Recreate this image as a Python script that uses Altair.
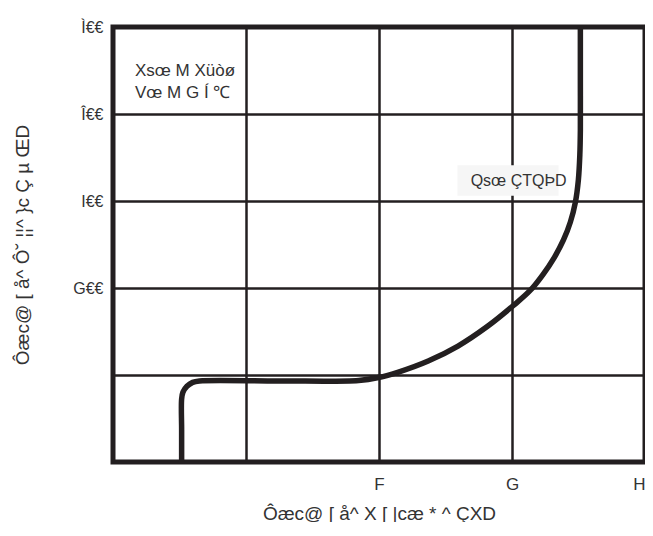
import altair as alt
import pandas as pd

# Curve
curve_x = [0.516, 0.516, 0.516, 0.526, 0.556, 0.599, 0.650, 1.249, 1.847, 1.996, 2.146, 2.370,
           2.594, 2.819, 3.006, 3.133, 3.230, 3.320, 3.387, 3.439, 3.477, 3.499, 3.510, 3.514,
           3.514, 3.514]
curve_y = [0.0, 0.368, 0.724, 0.803, 0.870, 0.915, 0.931, 0.931, 0.937, 0.971, 1.034, 1.161,
           1.333, 1.563, 1.793, 1.966, 2.149, 2.356, 2.552, 2.759, 2.989, 3.241, 3.529, 3.816,
           4.391, 5.0]

x_tick_values = [0, 1, 2, 3, 4]
x_tick_labels = ["", "", "F", "G", "H"]
y_tick_values = [0, 1, 2, 3, 4, 5]
y_tick_labels = ["", "", "G€€", "I€€", "Î€€", "Ì€€"]

x_title = "Ôæc@ [ å^ X [ |cæ * ^ ÇXD"
y_title = "Ôæc@ [ å^ Ô˘ ¦¦^ }c Ç µ ŒD"

note_lines = ["Xsœ M Xüòø", "Vœ M G Í ℃"]
note_x = [0.165, 0.165]
note_y = [4.49, 4.24]

curve_label = ["Qsœ ÇTQÞD"]
curve_label_x = [3.05]
curve_label_y = [3.23]
box_x = [2.59]
box_x2 = [3.35]
box_y = [3.06]
box_y2 = [3.41]

FONT = "Liberation Sans"


def label_expr(values, labels):
    parts = [f"datum.value == {v} ? '{l}'" for v, l in zip(values, labels)]
    return " : ".join(parts) + " : ''"


curve_df = pd.DataFrame({"x": curve_x, "y": curve_y, "o": list(range(len(curve_x)))})
note_df = pd.DataFrame({"x": note_x, "y": note_y, "t": note_lines})
lab_df = pd.DataFrame({"x": curve_label_x, "y": curve_label_y, "t": curve_label})
box_df = pd.DataFrame({"x": box_x, "x2": box_x2, "y": box_y, "y2": box_y2})

xs = alt.Scale(domain=[0, 4], nice=False, zero=False)
ys = alt.Scale(domain=[0, 5], nice=False, zero=False)

common = dict(grid=True, ticks=False, domain=False, labelColor="#333", titleColor="#333",
              titleFontWeight="normal", labelFont=FONT, titleFont=FONT,
              gridColor="#231f20", gridWidth=2.5, gridOpacity=1)
xaxis = alt.Axis(values=x_tick_values, labelExpr=label_expr(x_tick_values, x_tick_labels),
                 title=x_title, labelPadding=14, titlePadding=12, labelFlush=True,
                 labelFontSize=17, titleFontSize=19, **common)
yaxis = alt.Axis(values=y_tick_values, labelExpr=label_expr(y_tick_values, y_tick_labels),
                 title=y_title, labelPadding=10, titlePadding=40,
                 labelFontSize=16, titleFontSize=19, **common)

X = alt.X("x:Q", scale=xs, axis=xaxis)
Y = alt.Y("y:Q", scale=ys, axis=yaxis)

base_line = alt.Chart(curve_df).mark_line(color="#231f20", strokeWidth=5.5, strokeJoin="round",
                                          strokeCap="butt", interpolate="catmull-rom").encode(
    x=X, y=Y, order="o:O",
)

box = alt.Chart(box_df).mark_rect(color="#f6f6f6").encode(
    x=X, x2="x2", y=Y, y2="y2"
)

lab = alt.Chart(lab_df).mark_text(fontSize=16, color="#333", font=FONT).encode(
    x=X, y=Y, text="t:N"
)

notes = alt.Chart(note_df).mark_text(fontSize=17, color="#333", align="left", font=FONT).encode(
    x=X, y=Y, text="t:N"
)

chart = alt.layer(base_line, box, lab, notes).properties(
    width=532, height=435,
    autosize=alt.AutoSizeParams(type="none"),
    padding={"left": 105, "top": 19, "right": 0, "bottom": 60},
).configure_view(
    stroke="#231f20", strokeWidth=5
)

chart.save("out.html", embed_options={"renderer": "svg", "actions": False})
